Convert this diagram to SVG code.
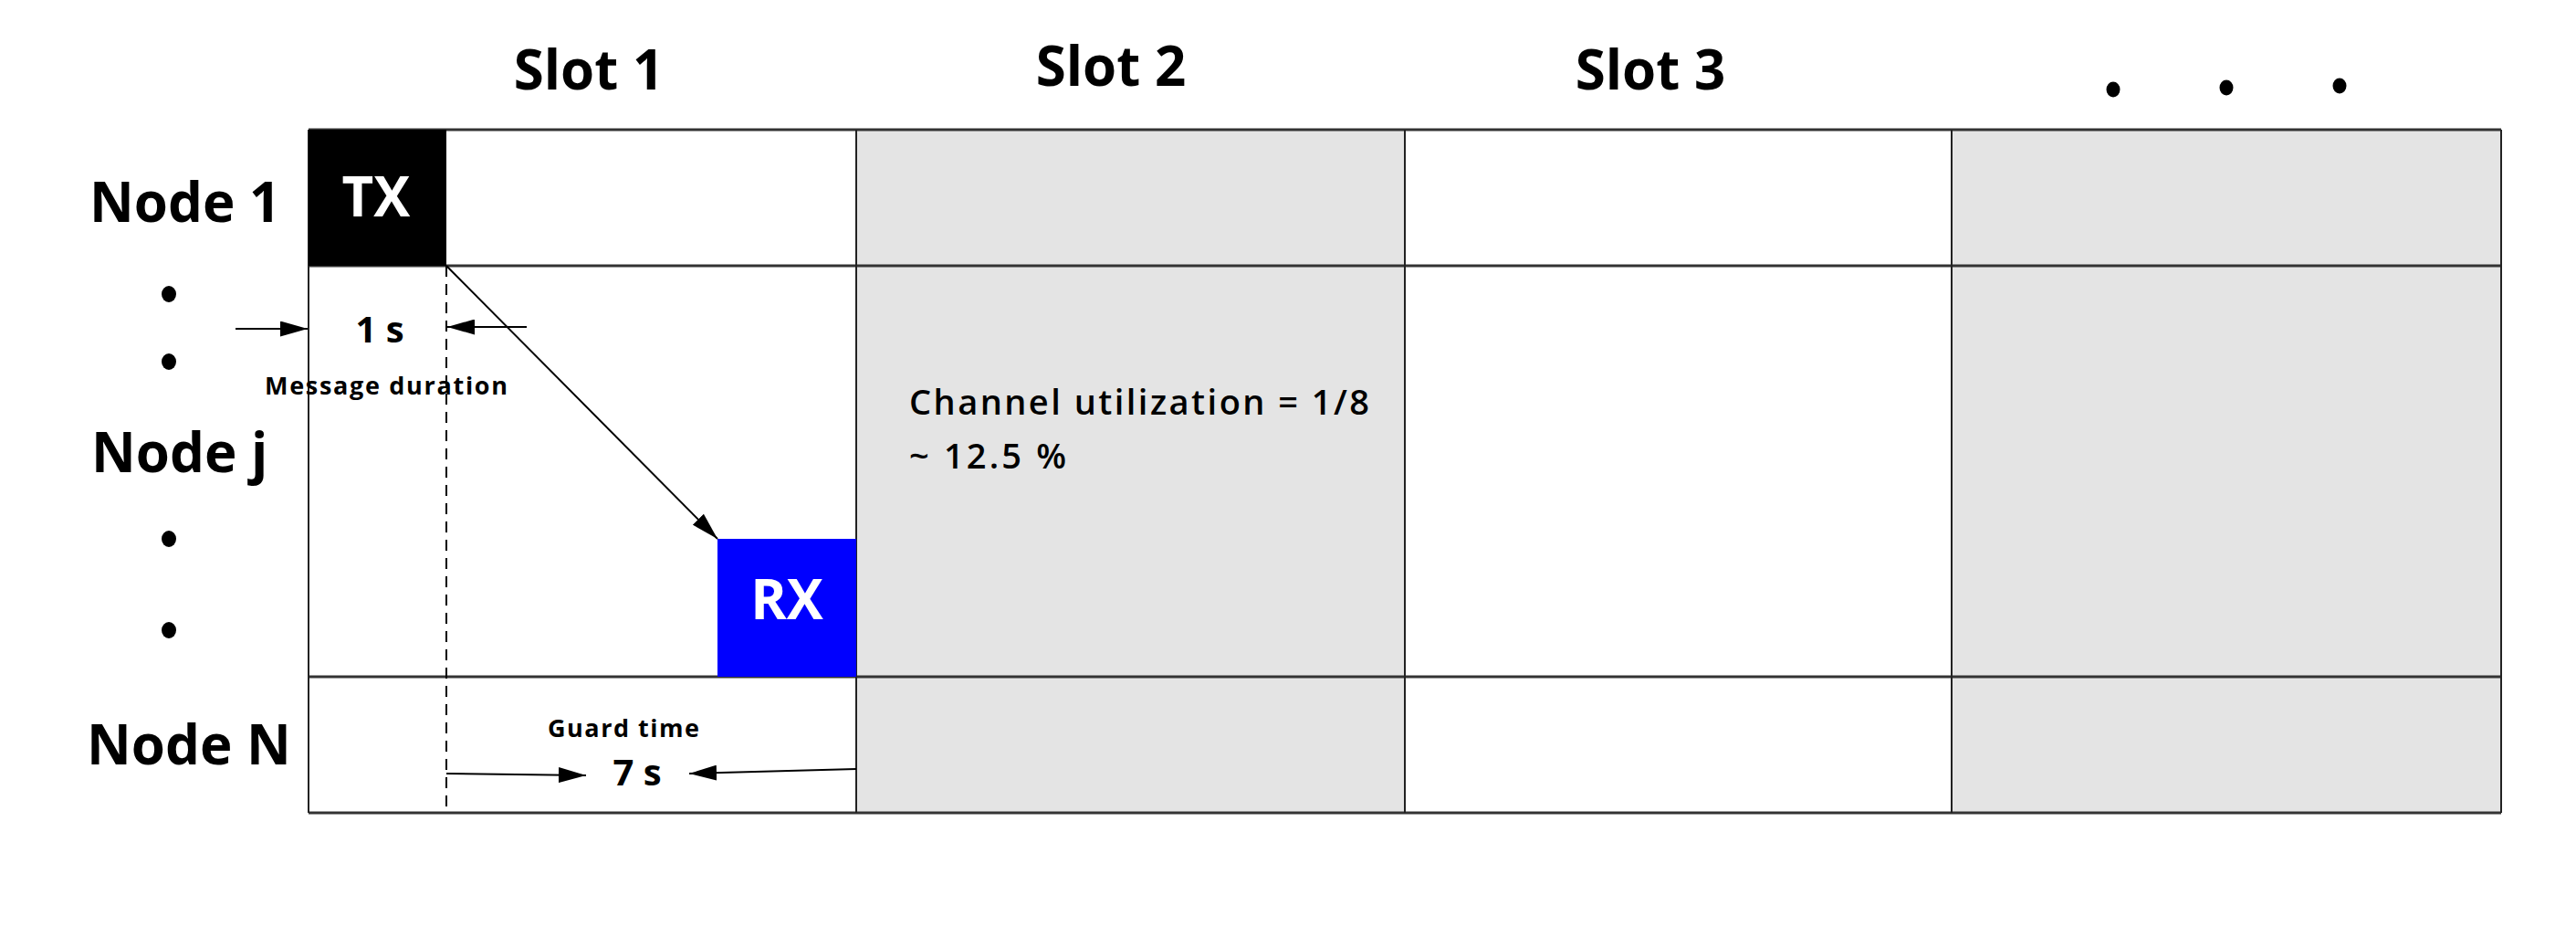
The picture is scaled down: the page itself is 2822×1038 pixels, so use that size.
<svg xmlns="http://www.w3.org/2000/svg" width="2822" height="1038" viewBox="0 0 2822 1038">
<style>
  .lbl { font-family: "Open Sans", "DejaVu Sans", sans-serif; font-weight: bold; fill: #000; }
  .big { font-size: 60px; }
  .mid { font-size: 40px; }
  .small { font-size: 27px; }
  .util { font-size: 38px; font-weight: 600; }
  .cellw { fill: #ffffff; }
  .cellg { fill: #e4e4e4; }
  .gridh { stroke: #333; stroke-width: 3; }
  .gridv { stroke: #222; stroke-width: 2; }
  .conn { stroke: #000; stroke-width: 2; fill: none; }
  .dot { fill: #000; }
</style>
<defs>
  <marker id="ah" markerWidth="30" markerHeight="17" refX="30" refY="8.5" orient="auto" markerUnits="userSpaceOnUse">
    <path d="M0,0 L30,8.5 L0,17 z" fill="#000"/>
  </marker>
</defs>
<rect x="0" y="0" width="2822" height="1038" fill="#fff"/>

<g id="grid">
  <rect class="cellw" x="338" y="142" width="600" height="748"/>
  <rect class="cellg" x="938" y="142" width="601" height="748"/>
  <rect class="cellw" x="1539" y="142" width="599" height="748"/>
  <rect class="cellg" x="2138" y="142" width="602" height="748"/>
  <line class="gridh" x1="338" y1="142" x2="2740" y2="142"/>
  <line class="gridh" x1="338" y1="291" x2="2740" y2="291"/>
  <line class="gridh" x1="338" y1="741" x2="2740" y2="741"/>
  <line class="gridh" x1="338" y1="890" x2="2740" y2="890"/>
  <line class="gridv" x1="338" y1="142" x2="338" y2="890"/>
  <line class="gridv" x1="938" y1="142" x2="938" y2="890"/>
  <line class="gridv" x1="1539" y1="142" x2="1539" y2="890"/>
  <line class="gridv" x1="2138" y1="142" x2="2138" y2="890"/>
  <line class="gridv" x1="2740" y1="142" x2="2740" y2="890"/>
</g>

<g id="slot-labels">
  <text class="lbl big" x="645" y="98" text-anchor="middle">Slot 1</text>
  <text class="lbl big" x="1217" y="94" text-anchor="middle">Slot 2</text>
  <text class="lbl big" x="1808" y="98" text-anchor="middle">Slot 3</text>
  <ellipse class="dot" cx="2315" cy="98" rx="7.5" ry="8.5"/>
  <ellipse class="dot" cx="2439" cy="96" rx="7.5" ry="8.5"/>
  <ellipse class="dot" cx="2563" cy="94" rx="7.5" ry="8.5"/>
</g>

<g id="node-labels">
  <text class="lbl big" x="98" y="243">Node 1</text>
  <text class="lbl big" x="100" y="517">Node j</text>
  <text class="lbl big" x="95" y="837">Node N</text>
  <ellipse class="dot" cx="185" cy="322" rx="8" ry="9"/>
  <ellipse class="dot" cx="185" cy="396" rx="8" ry="9"/>
  <ellipse class="dot" cx="185" cy="590" rx="8" ry="9"/>
  <ellipse class="dot" cx="185" cy="690" rx="8" ry="9"/>
</g>

<g id="tx">
  <rect x="338" y="142" width="151" height="149" fill="#000"/>
  <text class="lbl big" x="412" y="237" text-anchor="middle" style="fill:#fff">TX</text>
</g>

<g id="rx">
  <rect x="786" y="590" width="152" height="151" fill="#0000ff"/>
  <text class="lbl big" x="862" y="678" text-anchor="middle" style="fill:#fff">RX</text>
</g>

<g id="annotations">
  <text class="lbl mid" x="416" y="375" text-anchor="middle">1 s</text>
  <text class="lbl small" x="290" y="432" textLength="266" lengthAdjust="spacing">Message duration</text>
  <text class="lbl small" x="600" y="807" textLength="166" lengthAdjust="spacing">Guard time</text>
  <text class="lbl mid" x="698" y="860" text-anchor="middle">7 s</text>
  <text class="lbl util" x="996" y="454" textLength="504" lengthAdjust="spacing">Channel utilization = 1/8</text>
  <text class="lbl util" x="996" y="513" textLength="172" lengthAdjust="spacing">~ 12.5 %</text>
</g>

<g id="connectors">
  <line class="conn" x1="489" y1="291" x2="489" y2="890" stroke-dasharray="12,8"/>
  <line class="conn" x1="489" y1="291" x2="786" y2="590" marker-end="url(#ah)"/>
  <line class="conn" x1="258" y1="360" x2="337" y2="360" marker-end="url(#ah)"/>
  <line class="conn" x1="577" y1="358" x2="490" y2="358" marker-end="url(#ah)"/>
  <line class="conn" x1="489" y1="847" x2="642" y2="849" marker-end="url(#ah)"/>
  <line class="conn" x1="938" y1="842" x2="755" y2="847" marker-end="url(#ah)"/>
</g>
</svg>
